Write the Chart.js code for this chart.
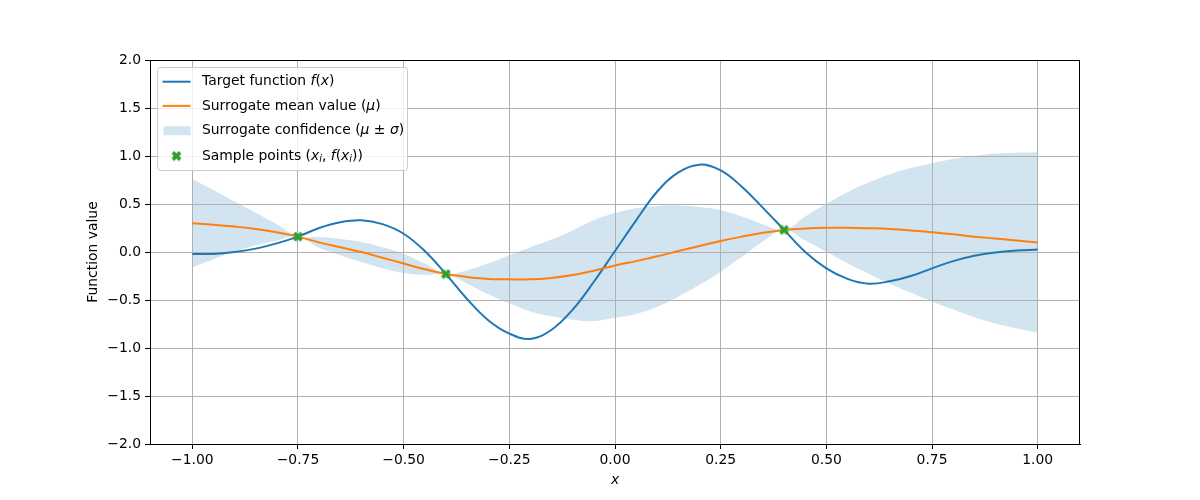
<!DOCTYPE html>
<html>
<head>
<meta charset="utf-8">
<script src="https://cdn.jsdelivr.net/npm/chart.js@4/dist/chart.umd.min.js"></script>
<style>
  body { margin: 0; background: #fff; }
  #wrap { width: 1200px; height: 500px; }
</style>
</head>
<body>
<div id="wrap"><canvas id="chart" width="1200" height="500"></canvas></div>
<script>
/* Values */
const xs = [-1.00, -0.95, -0.90, -0.85, -0.80, -0.75, -0.70, -0.65, -0.60, -0.55,
            -0.50, -0.45, -0.40, -0.35, -0.30, -0.25, -0.20, -0.15, -0.10, -0.05,
             0.00,  0.05,  0.10,  0.15,  0.20,  0.25,  0.30,  0.35,  0.40,  0.45,
             0.50,  0.55,  0.60,  0.65,  0.70,  0.75,  0.80,  0.85,  0.90,  0.95, 1.00];

const target = [-0.02, -0.02, 0.00, 0.035, 0.09, 0.16, 0.25, 0.31, 0.33, 0.29,
                 0.19, 0.01, -0.23, -0.49, -0.71, -0.85, -0.905, -0.81, -0.60, -0.31,
                 0.01, 0.33, 0.63, 0.83, 0.91, 0.85, 0.68, 0.46, 0.23, 0.00,
                -0.17, -0.28, -0.33, -0.305, -0.25, -0.17, -0.095, -0.04, -0.005, 0.015, 0.025];

const mean = [0.30, 0.285, 0.265, 0.24, 0.205, 0.16, 0.10, 0.05, 0.00, -0.06,
              -0.12, -0.18, -0.23, -0.26, -0.28, -0.285, -0.285, -0.27, -0.24, -0.195,
              -0.14, -0.095, -0.045, 0.01, 0.063, 0.115, 0.16, 0.20, 0.23, 0.245,
               0.253, 0.253, 0.248, 0.24, 0.225, 0.205, 0.185, 0.16, 0.14, 0.12, 0.10];

const sigma = [0.46, 0.36, 0.26, 0.17, 0.085, 0.00, 0.055, 0.085, 0.105, 0.11,
               0.10, 0.06, 0.00, 0.07, 0.16, 0.25, 0.335, 0.40, 0.465, 0.525,
               0.545, 0.55, 0.525, 0.475, 0.405, 0.32, 0.21, 0.09, 0.00, 0.125,
               0.25, 0.37, 0.475, 0.57, 0.65, 0.72, 0.785, 0.84, 0.885, 0.915, 0.94];

const sampleX = [-0.75, -0.40, 0.40];
const sampleY = [0.16, -0.23, 0.23];

const xTicks = [-1.00, -0.75, -0.50, -0.25, 0.00, 0.25, 0.50, 0.75, 1.00];
const yTicks = [-2.0, -1.5, -1.0, -0.5, 0.0, 0.5, 1.0, 1.5, 2.0];

const FONT = '"DejaVu Sans", sans-serif';
const FSIZE = 13.9;

Chart.defaults.font.family = FONT;
Chart.defaults.font.size = FSIZE;
Chart.defaults.color = '#000';

function fmt(v, d) {
  const s = Math.abs(v).toFixed(d);
  return (v < -1e-9 ? '\u2212' : '') + s;
}

function pts(ys) {
  return xs.map((x, i) => ({ x: x, y: ys[i] }));
}

// filled "X" marker like matplotlib's
function xMarker(size, color) {
  const c = document.createElement('canvas');
  c.width = size; c.height = size;
  const g = c.getContext('2d');
  g.strokeStyle = color;
  g.lineWidth = size * 0.33;
  g.lineCap = 'butt';
  const a = size * 0.17, b = size - a;
  g.beginPath();
  g.moveTo(a, a); g.lineTo(b, b);
  g.moveTo(a, b); g.lineTo(b, a);
  g.stroke();
  return c;
}
const marker = xMarker(11, '#2ca02c');

const spines = {
  id: 'spines',
  afterDatasetsDraw(chart) {
    const { ctx, chartArea: a } = chart;
    ctx.save();
    ctx.strokeStyle = '#000';
    ctx.lineWidth = 1;
    ctx.strokeRect(a.left + 0.5, a.top + 0.5, a.right - a.left - 1, a.bottom - a.top);
    ctx.restore();
  }
};

// legend with mathtext-like italics
const legendRows = [
  [['Target function ', 'n'], ['f', 'i'], ['(', 'n'], ['x', 'i'], [')', 'n']],
  [['Surrogate mean value ', 'n'], ['(', 'n'], ['\u03bc', 'i'], [')', 'n']],
  [['Surrogate confidence ', 'n'], ['(', 'n'], ['\u03bc', 'i'], [' \u00b1 ', 'n'], ['\u03c3', 'i'], [')', 'n']],
  [['Sample points ', 'n'], ['(', 'n'], ['x', 'i'], ['i', 's'], [', ', 'n'], ['f', 'i'], ['(', 'n'],
   ['x', 'i'], ['i', 's'], [')', 'n'], [')', 'n']]
];

const mathLegend = {
  id: 'mathLegend',
  afterDraw(chart) {
    const ctx = chart.ctx;
    const a = chart.chartArea;
    const bx = a.left + 7.5, by = a.top + 7.5, bw = 250, bh = 103;
    ctx.save();
    ctx.beginPath();
    ctx.roundRect(bx, by, bw, bh, 3);
    ctx.fillStyle = 'rgba(255,255,255,0.8)';
    ctx.fill();
    ctx.strokeStyle = '#cccccc';
    ctx.lineWidth = 1;
    ctx.stroke();

    const rowY = [by + 14.2, by + 38.4, by + 63.2, by + 88.5];
    const hx0 = bx + 5, hx1 = bx + 33;

    ctx.lineWidth = 2;
    ctx.strokeStyle = '#1f77b4';
    ctx.beginPath(); ctx.moveTo(hx0, rowY[0]); ctx.lineTo(hx1, rowY[0]); ctx.stroke();
    ctx.strokeStyle = '#ff7f0e';
    ctx.beginPath(); ctx.moveTo(hx0, rowY[1]); ctx.lineTo(hx1, rowY[1]); ctx.stroke();
    ctx.fillStyle = 'rgba(31,119,180,0.2)';
    ctx.fillRect(hx0 + 1, rowY[2] - 4.5, hx1 - hx0 - 1, 9);
    ctx.drawImage(marker, (hx0 + hx1) / 2 - marker.width / 2, rowY[3] - marker.height / 2);

    ctx.fillStyle = '#000';
    ctx.textBaseline = 'middle';
    legendRows.forEach((row, r) => {
      let x = bx + 44.5;
      row.forEach(([t, s]) => {
        let y = rowY[r];
        if (s === 'n') ctx.font = FSIZE + 'px ' + FONT;
        else if (s === 'i') ctx.font = 'italic ' + FSIZE + 'px ' + FONT;
        else { ctx.font = 'italic ' + (FSIZE * 0.7) + 'px ' + FONT; y += 3.5; }
        ctx.fillText(t, x, y);
        x += ctx.measureText(t).width;
      });
    });
    ctx.restore();
  }
};

new Chart(document.getElementById('chart'), {
  type: 'line',
  data: {
    datasets: [
      {
        label: 'upper',
        data: xs.map((x, i) => ({ x: x, y: mean[i] + sigma[i] })),
        borderColor: 'transparent',
        borderWidth: 0,
        pointRadius: 0,
        backgroundColor: 'rgba(31,119,180,0.2)',
        fill: '+1',
        tension: 0.4,
        order: 3
      },
      {
        label: 'lower',
        data: xs.map((x, i) => ({ x: x, y: mean[i] - sigma[i] })),
        borderColor: 'transparent',
        borderWidth: 0,
        pointRadius: 0,
        fill: false,
        tension: 0.4,
        order: 3
      },
      {
        label: 'Target function',
        data: pts(target),
        borderColor: '#1f77b4',
        borderWidth: 2,
        pointRadius: 0,
        fill: false,
        tension: 0.4,
        order: 2
      },
      {
        label: 'Surrogate mean value',
        data: pts(mean),
        borderColor: '#ff7f0e',
        borderWidth: 2,
        pointRadius: 0,
        fill: false,
        tension: 0.4,
        order: 1
      },
      {
        type: 'scatter',
        label: 'Sample points',
        data: sampleX.map((x, i) => ({ x: x, y: sampleY[i] })),
        pointStyle: marker,
        pointRadius: 5,
        showLine: false,
        order: 0
      }
    ]
  },
  options: {
    responsive: false,
    animation: false,
    devicePixelRatio: 1,
    layout: { padding: { left: 81, right: 120, top: 60, bottom: 7 } },
    plugins: {
      legend: { display: false },
      tooltip: { enabled: false },
      filler: { drawTime: 'beforeDraw' }
    },
    scales: {
      x: {
        type: 'linear',
        min: -1.1,
        max: 1.1,
        afterBuildTicks: s => { s.ticks = xTicks.map(v => ({ value: v })); },
        afterFit: s => { s.height = 49; },
        ticks: { callback: v => fmt(v, 2), color: '#000', padding: 3, maxRotation: 0, autoSkip: false },
        grid: { color: '#b0b0b0', tickColor: '#000', tickLength: 5, lineWidth: 1 },
        border: { color: '#000', width: 1 },
        title: { display: true, text: 'x', color: '#000', font: { style: 'italic' }, padding: 4 }
      },
      y: {
        type: 'linear',
        min: -2,
        max: 2,
        afterBuildTicks: s => { s.ticks = yTicks.map(v => ({ value: v })); },
        afterFit: s => { s.width = 69; },
        ticks: { callback: v => fmt(v, 1), color: '#000', padding: 4, autoSkip: false },
        grid: { color: '#b0b0b0', tickColor: '#000', tickLength: 5, lineWidth: 1 },
        border: { color: '#000', width: 1 },
        title: { display: true, text: 'Function value', color: '#000', padding: 4 }
      }
    }
  },
  plugins: [spines, mathLegend]
});
</script>
</body>
</html>
